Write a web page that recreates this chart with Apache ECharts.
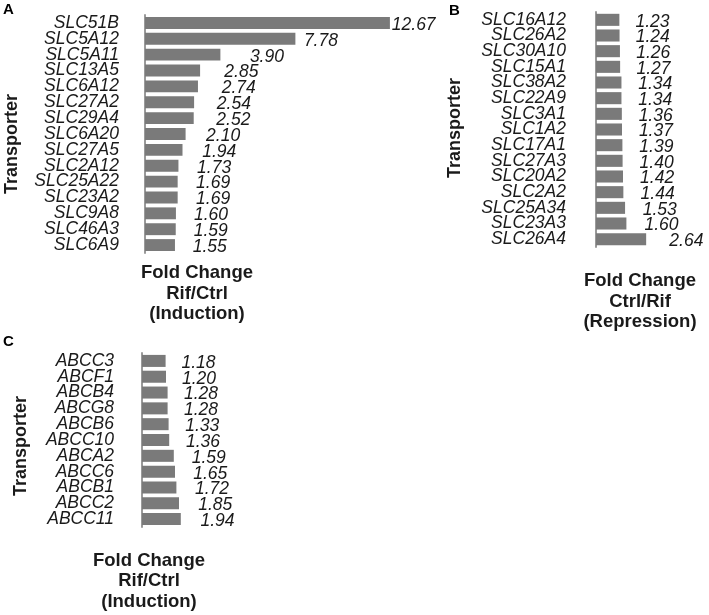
<!DOCTYPE html>
<html lang="en">
<head>
    <meta charset="UTF-8">
    <title>Transporter fold change</title>
    <script src="https://cdn.jsdelivr.net/npm/echarts@6/dist/echarts.min.js"></script>
    <style>
        html, body { margin: 0; padding: 0; background: #fff; }
    </style>
</head>
<body>
<!-- 图表容器 -->
<div id="main" style="width: 709px;height:615px;"></div>
<script>
    // A: SLC induced (Rif/Ctrl)
    const slcUpGenes = ['SLC51B', 'SLC5A12', 'SLC5A11', 'SLC13A5', 'SLC6A12', 'SLC27A2', 'SLC29A4', 'SLC6A20',
        'SLC27A5', 'SLC2A12', 'SLC25A22', 'SLC23A2', 'SLC9A8', 'SLC46A3', 'SLC6A9'];
    const slcUpValues = [12.67, 7.78, 3.90, 2.85, 2.74, 2.54, 2.52, 2.10, 1.94, 1.73, 1.69, 1.69, 1.60, 1.59, 1.55];

    // B: SLC repressed (Ctrl/Rif)
    const slcDownGenes = ['SLC16A12', 'SLC26A2', 'SLC30A10', 'SLC15A1', 'SLC38A2', 'SLC22A9', 'SLC3A1', 'SLC1A2',
        'SLC17A1', 'SLC27A3', 'SLC20A2', 'SLC2A2', 'SLC25A34', 'SLC23A3', 'SLC26A4'];
    const slcDownValues = [1.23, 1.24, 1.26, 1.27, 1.34, 1.34, 1.36, 1.37, 1.39, 1.40, 1.42, 1.44, 1.53, 1.60, 2.64];

    // C: ABC induced (Rif/Ctrl)
    const abcUpGenes = ['ABCC3', 'ABCF1', 'ABCB4', 'ABCG8', 'ABCB6', 'ABCC10', 'ABCA2', 'ABCC6', 'ABCB1', 'ABCC2', 'ABCC11'];
    const abcUpValues = [1.18, 1.20, 1.28, 1.28, 1.33, 1.36, 1.59, 1.65, 1.72, 1.85, 1.94];

    const FONT = "'Liberation Sans', Arial, sans-serif";
    const TEXT = '#1a1a1a';
    const BAR = '#7a7a7a';

    // 数值标签离柱子的距离（原图里标签是手动摆的，大致随数值变化）
    function labelGap(v) {
        return v < 5 ? 10 + 5 * v : 19 - 1.35 * v;
    }

    function barData(values) {
        return values.map(v => ({value: v, label: {distance: labelGap(v)}}));
    }

    function catAxis(idx, genes, margin) {
        return {
            type: 'category',
            gridIndex: idx,
            data: genes,
            inverse: true,
            axisLine: {show: true, lineStyle: {color: '#9a9a9a', width: 2}},
            axisTick: {show: false},
            axisLabel: {
                interval: 0,
                margin: margin,
                color: TEXT,
                fontFamily: FONT,
                fontStyle: 'italic',
                fontSize: 17.5
            }
        };
    }

    function valAxis(idx, max) {
        return {type: 'value', gridIndex: idx, min: 0, max: max, show: false};
    }

    function barSeries(idx, values, gap) {
        return {
            type: 'bar',
            xAxisIndex: idx,
            yAxisIndex: idx,
            data: barData(values),
            barCategoryGap: gap,
            itemStyle: {color: BAR},
            label: {
                show: true,
                position: 'right',
                offset: [0, 2],
                color: TEXT,
                fontFamily: FONT,
                fontStyle: 'italic',
                fontSize: 17.5,
                formatter: p => p.value.toFixed(2)
            },
            silent: true,
            animation: false
        };
    }

    function titleText(x, y, text) {
        return {
            type: 'text', x: x, y: y,
            style: {
                text: text, fill: TEXT, font: 'bold 18.5px ' + FONT,
                textAlign: 'center', textVerticalAlign: 'middle', lineHeight: 20.5
            }
        };
    }

    function yTitle(x, y) {
        return {
            type: 'text', x: x, y: y, rotation: Math.PI / 2,
            style: {
                text: 'Transporter', fill: TEXT, font: 'bold 18px ' + FONT,
                textAlign: 'center', textVerticalAlign: 'middle'
            }
        };
    }

    function panelLetter(x, y, t) {
        return {type: 'text', x: x, y: y, style: {text: t, fill: '#000', font: 'bold 15px ' + FONT}};
    }

    let myChart = echarts.init(document.getElementById('main'));

    let option = {
        backgroundColor: '#fff',
        animation: false,
        grid: [
            {left: 145, top: 15, width: 13 * 19.33, height: 238},
            {left: 596, top: 12, width: 5 * 19, height: 235},
            {left: 142, top: 353, width: 4 * 20, height: 174}
        ],
        xAxis: [valAxis(0, 13), valAxis(1, 5), valAxis(2, 4)],
        yAxis: [
            catAxis(0, slcUpGenes, 26),
            catAxis(1, slcDownGenes, 30),
            catAxis(2, abcUpGenes, 28)
        ],
        series: [
            barSeries(0, slcUpValues, '25%'),
            barSeries(1, slcDownValues, '23%'),
            barSeries(2, abcUpValues, '24%')
        ],
        graphic: [
            panelLetter(3, 2, 'A'),
            panelLetter(449, 3, 'B'),
            panelLetter(3, 334, 'C'),
            yTitle(12, 144),
            yTitle(455, 128),
            yTitle(21, 446),
            titleText(197, 293.5, 'Fold Change\nRif/Ctrl\n(Induction)'),
            titleText(640, 301.5, 'Fold Change\nCtrl/Rif\n(Repression)'),
            titleText(149, 581, 'Fold Change\nRif/Ctrl\n(Induction)')
        ]
    };

    myChart.setOption(option);
</script>
</body>
</html>
